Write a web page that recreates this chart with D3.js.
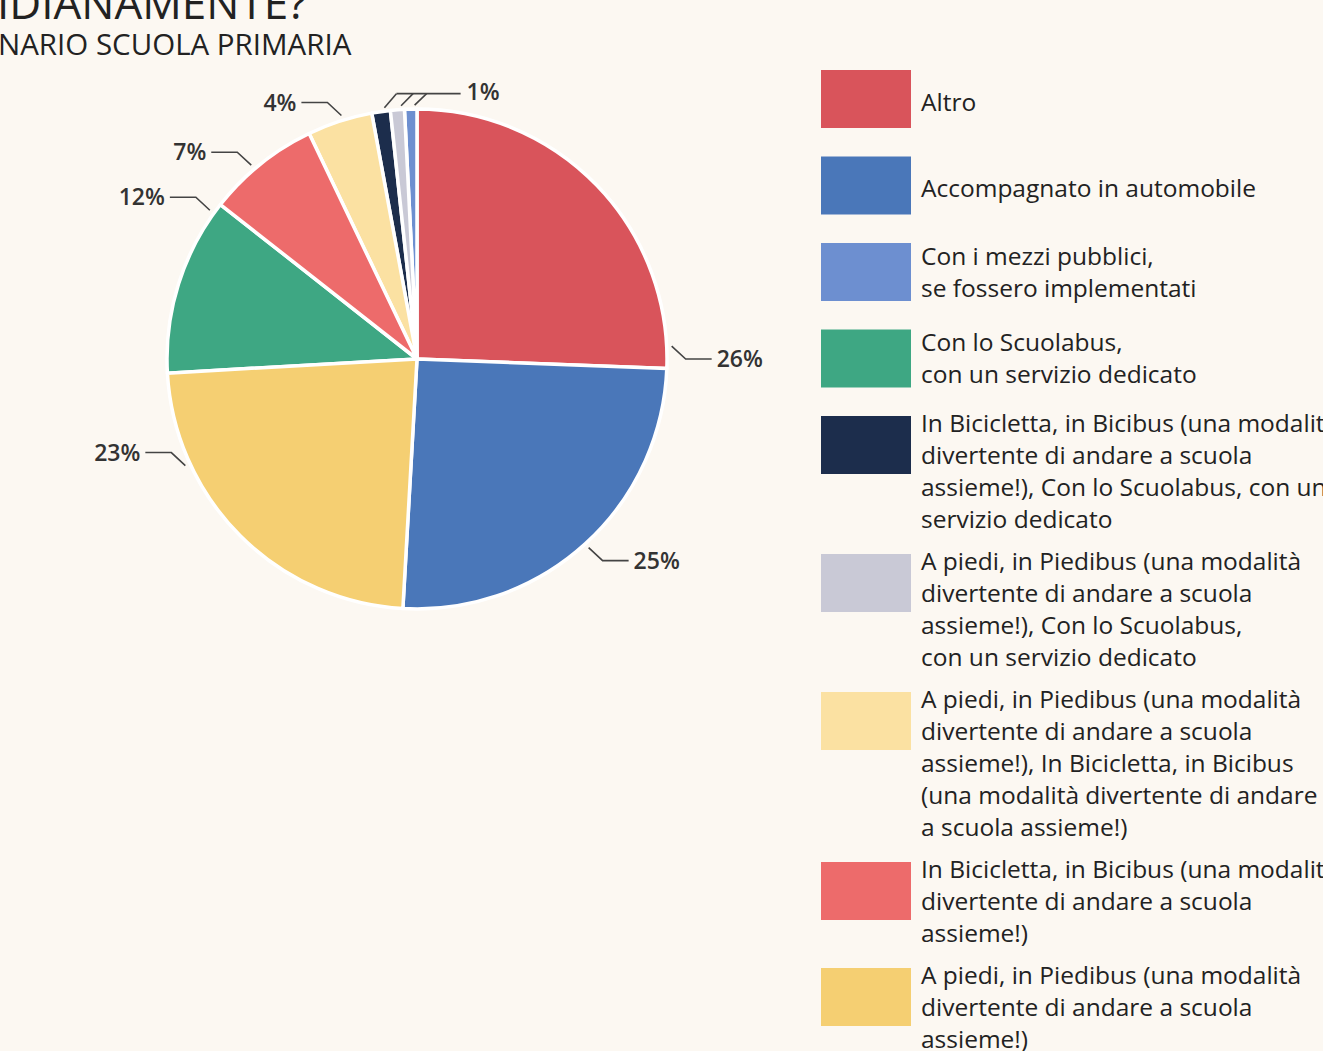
<!DOCTYPE html>
<html><head><meta charset="utf-8">
<script src="https://cdn.jsdelivr.net/npm/d3@7"></script>
<style>
html,body{margin:0;padding:0;background:#fcf8f2;}
svg{display:block;}
text{font-family:"Open Sans",sans-serif;}
</style></head>
<body>
<script>
// Data (legend order)
const categories = [
  "Altro",
  "Accompagnato in automobile",
  "Con i mezzi pubblici, se fossero implementati",
  "Con lo Scuolabus, con un servizio dedicato",
  "In Bicicletta, in Bicibus (una modalità divertente di andare a scuola assieme!), Con lo Scuolabus, con un servizio dedicato",
  "A piedi, in Piedibus (una modalità divertente di andare a scuola assieme!), Con lo Scuolabus, con un servizio dedicato",
  "A piedi, in Piedibus (una modalità divertente di andare a scuola assieme!), In Bicicletta, in Bicibus (una modalità divertente di andare a scuola assieme!)",
  "In Bicicletta, in Bicibus (una modalità divertente di andare a scuola assieme!)",
  "A piedi, in Piedibus (una modalità divertente di andare a scuola assieme!)"
];
const legendLines = [
  ["Altro"],
  ["Accompagnato in automobile"],
  ["Con i mezzi pubblici,", "se fossero implementati"],
  ["Con lo Scuolabus,", "con un servizio dedicato"],
  ["In Bicicletta, in Bicibus (una modalità", "divertente di andare a scuola", "assieme!), Con lo Scuolabus, con un", "servizio dedicato"],
  ["A piedi, in Piedibus (una modalità", "divertente di andare a scuola", "assieme!), Con lo Scuolabus,", "con un servizio dedicato"],
  ["A piedi, in Piedibus (una modalità", "divertente di andare a scuola", "assieme!), In Bicicletta, in Bicibus", "(una modalità divertente di andare", "a scuola assieme!)"],
  ["In Bicicletta, in Bicibus (una modalità", "divertente di andare a scuola", "assieme!)"],
  ["A piedi, in Piedibus (una modalità", "divertente di andare a scuola", "assieme!)"]
];
const values = [25.6, 25.3, 0.8, 11.5, 1.2, 0.9, 4.2, 7.3, 23.2];
const colors = ["#d9545b", "#4a77b9", "#6d8fd0", "#3ea783", "#1c2d4c", "#c9c9d6", "#fbe1a2", "#ed6b6b", "#f5cf72"];
// where along each slice its label leader starts (fraction of slice arc); null = grouped small label
const labelFrac = [0.945, 0.50, null, 0.94, null, null, 0.55, 0.43, 0.743];

const W = 1323, H = 1051;
const svg = d3.select("body").append("svg").attr("width", W).attr("height", H);
svg.append("rect").attr("width", W).attr("height", H).attr("fill", "#fcf8f2");

// Title (cropped)
svg.append("text").attr("x", -3).attr("y", 19).attr("font-size", 44).attr("fill", "#222").text("IDIANAMENTE?");
svg.append("text").attr("x", -2).attr("y", 55).attr("font-size", 29.5).attr("fill", "#222").text("NARIO SCUOLA PRIMARIA");

const cx = 417, cy = 359, r = 250;
const data = categories.map((c, i) => ({c, v: values[i], col: colors[i], frac: labelFrac[i], i}));
const pie = d3.pie().value(d => d.v).sort((a, b) => b.v - a.v);
const arcs = pie(data);
const arc = d3.arc().innerRadius(0).outerRadius(r);
const g = svg.append("g").attr("transform", `translate(${cx},${cy})`);
g.selectAll("path").data(arcs).join("path")
  .attr("d", arc).attr("fill", d => d.data.col)
  .attr("stroke", "#ffffff").attr("stroke-width", 3.5).attr("stroke-linejoin", "round");

const lab = svg.append("g").attr("transform", `translate(${cx},${cy})`);
const lineCol = "#444";
function pt(a, rr){ return [Math.sin(a)*rr, -Math.cos(a)*rr]; }
arcs.forEach(d => {
  if (d.data.frac == null) return;
  const a = d.startAngle + (d.endAngle - d.startAngle) * d.data.frac;
  const [x0, y0] = pt(a, r + 5);
  const side = x0 > 0 ? 1 : -1;
  const x1 = x0 + side*14, y1 = y0 + side*13;
  const x2 = x1 + side*26;
  lab.append("path").attr("d", `M${x0},${y0}L${x1},${y1}L${x2},${y1}`)
    .attr("fill", "none").attr("stroke", lineCol).attr("stroke-width", 1.6);
  lab.append("text").attr("x", x2 + side*5).attr("y", y1).attr("dy", "0.35em")
    .attr("text-anchor", side > 0 ? "start" : "end")
    .attr("font-size", 23).attr("font-weight", 600).attr("fill", "#333")
    .text(Math.round(d.data.v) + "%");
});
// grouped small slices
const small = arcs.filter(d => d.data.frac == null).sort((a, b) => a.startAngle - b.startAngle);
const elbows = small.map(d => {
  const a = (d.startAngle + d.endAngle) / 2;
  const [x0, y0] = pt(a, r + 4);
  return [x0 + 4, y0, x0 + 16, y0 - 14];
});
const yH = elbows[0][3];
const xEnd = elbows[elbows.length-1][2] + 34;
elbows.forEach(e => {
  lab.append("path").attr("d", `M${e[0]},${e[1]}L${e[2]},${yH}`)
    .attr("fill", "none").attr("stroke", lineCol).attr("stroke-width", 1.6);
});
lab.append("path").attr("d", `M${elbows[0][2]},${yH}L${xEnd},${yH}`)
  .attr("fill", "none").attr("stroke", lineCol).attr("stroke-width", 1.6);
lab.append("text").attr("x", xEnd + 6).attr("y", yH).attr("dy", "0.28em")
  .attr("font-size", 23).attr("font-weight", 600).attr("fill", "#333")
  .text(Math.round(small[0].data.v) + "%");

// Legend
const leg = svg.append("g");
let legTop = 70;
const lineH = 32;
data.forEach((d, i) => {
  const lines = legendLines[i];
  const n = lines.length;
  leg.append("rect").attr("x", 821).attr("y", legTop).attr("width", 90).attr("height", 58).attr("fill", d.col);
  const first = n === 1 ? legTop + 32 : n === 2 ? legTop + 13 : legTop + 7;
  lines.forEach((t, k) => {
    leg.append("text").attr("x", 921).attr("y", first + k * lineH).attr("dy", "0.35em")
      .attr("font-size", 24.5).attr("font-weight", 500).attr("fill", "#222").text(t);
  });
  legTop += Math.max(86.5, n * lineH + 10);
});
</script>
</body></html>
